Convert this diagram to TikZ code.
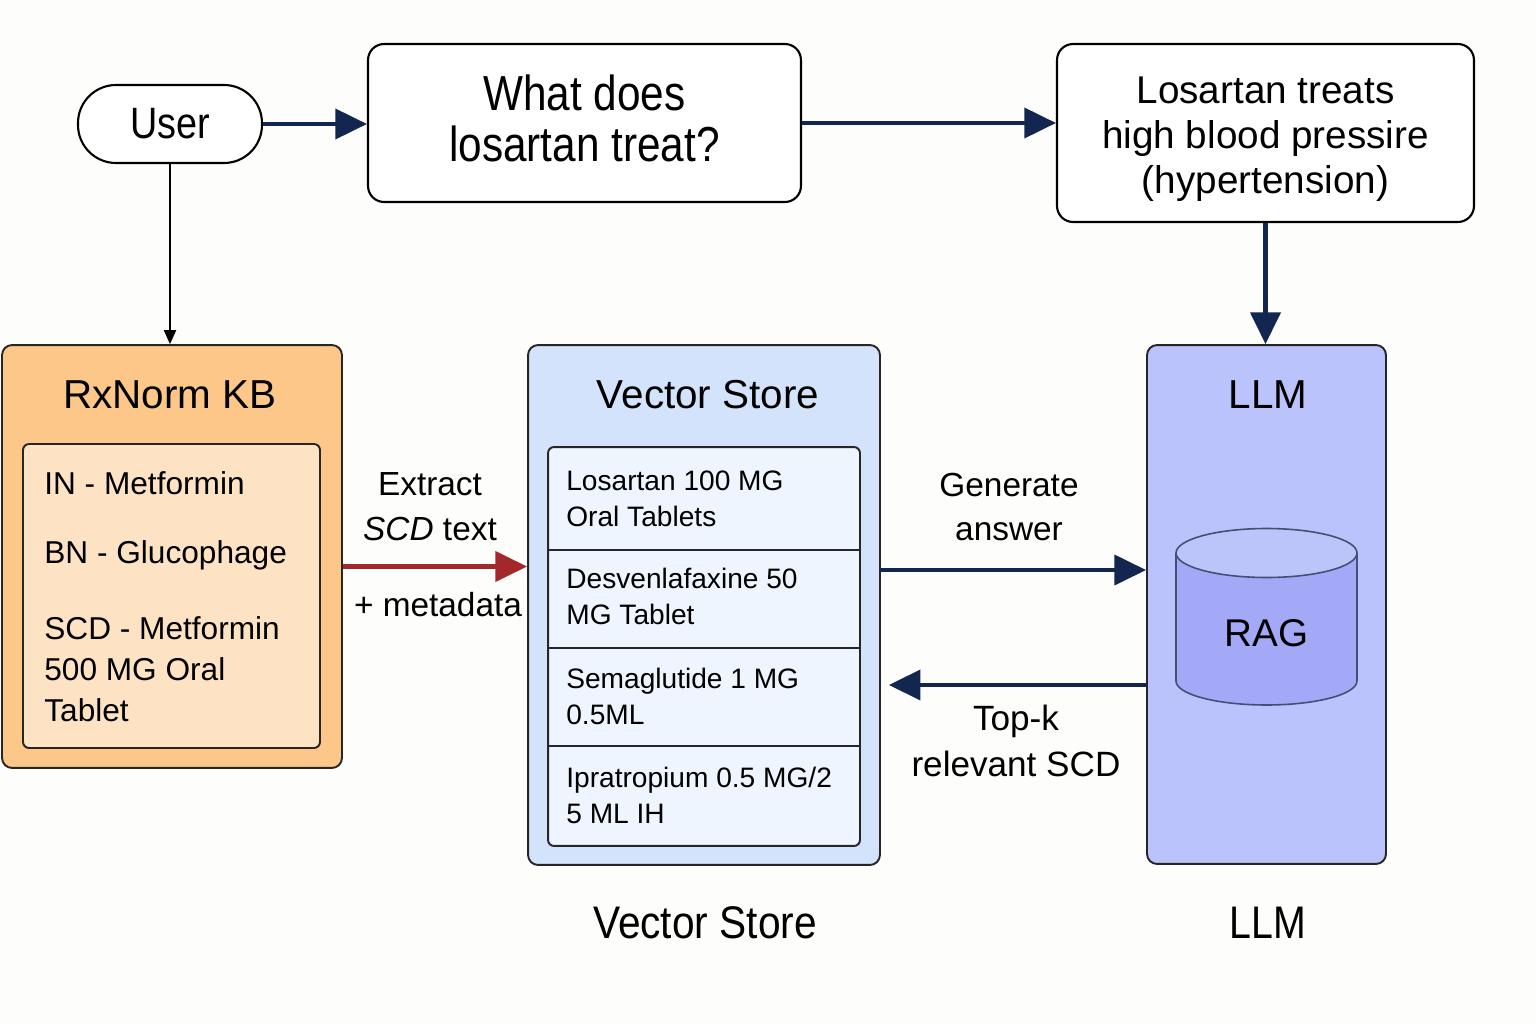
\documentclass[tikz,border=0pt]{standalone}
\usepackage{fontspec}
\setmainfont{Liberation Sans}
\usetikzlibrary{arrows.meta}

\definecolor{pagebg}{HTML}{FDFDFB}
\definecolor{arrowblue}{HTML}{122650}
\definecolor{arrowred}{HTML}{A3282B}
\definecolor{rxorange}{HTML}{FCC788}
\definecolor{rxlight}{HTML}{FDE3C4}
\definecolor{vsblue}{HTML}{D3E3FC}
\definecolor{vslight}{HTML}{EEF5FE}
\definecolor{llmblue}{HTML}{BAC3FB}
\definecolor{ragtop}{HTML}{BCC5FA}
\definecolor{ragside}{HTML}{A3A9F7}

\newcommand{\narrowtext}[1]{\scalebox{0.86}[1]{#1}}

\begin{document}
\begin{tikzpicture}[%
      x=0.02cm, y=-0.02cm,
      box/.style={draw=black, line width=1.2pt, rounded corners=0.32cm, fill=white, align=center, inner sep=0pt},
      panel/.style={draw=black!85, line width=1.1pt, rounded corners=0.2cm, inner sep=0pt},
      flow/.style={color=arrowblue, line width=2.4pt, -{Triangle[length=18pt,width=17pt]}},
      edgetext/.style={align=center, font=\fontsize{19}{25.5}\selectfont},
      paneltitle/.style={font=\fontsize{23}{27}\selectfont},
      itemtext/.style={anchor=west, align=left, inner sep=0pt, font=\fontsize{16}{20.5}\selectfont},
      ]
      \fill [color=pagebg] (0,0) rectangle (1536,1024);

      % question and answer
      \node [box, rounded corners=0.76cm, minimum width=3.68cm, minimum height=1.56cm,
             font=\fontsize{25}{29}\selectfont] (user) at (170,124) {\narrowtext{User}};
      \node [box, minimum width=8.66cm, minimum height=3.16cm,
             font=\fontsize{28}{29}\selectfont] (question) at (584.5,123)
            {\narrowtext{What does}\\\narrowtext{losartan treat?}\rule[-6pt]{0pt}{6pt}};
      \node [box, minimum width=8.34cm, minimum height=3.56cm,
             font=\fontsize{22}{25.5}\selectfont] (answer) at (1265.5,133)
            {\rule{0pt}{22.5pt}Losartan treats\\high blood pressire\\(hypertension)};

      % RxNorm KB
      \node [panel, fill=rxorange, minimum width=6.8cm, minimum height=8.46cm] (rxnorm) at (172,556.5) {};
      \node [panel, fill=rxlight, rounded corners=0.12cm, minimum width=5.94cm, minimum height=6.08cm] (rxlist) at (171.5,596) {};
      \node [paneltitle] (rxtitle) at (170,395) {RxNorm KB};
      \node [itemtext, font=\fontsize{18}{23.5}\selectfont] (rxin) at (44,483) {IN - Metformin};
      \node [itemtext, font=\fontsize{18}{23.5}\selectfont] (rxbn) at (44,555) {BN - Glucophage};
      \node [itemtext, font=\fontsize{18}{23.5}\selectfont] (rxscd) at (44,669) {SCD - Metformin\\500 MG Oral\\Tablet};

      % vector store
      \node [panel, fill=vsblue, minimum width=7.04cm, minimum height=10.4cm] (vstore) at (704,605) {};
      \node [paneltitle] (vstitle) at (708,395) {Vector Store};
      \node [panel, fill=vslight, rounded corners=0.12cm, minimum width=6.24cm, minimum height=7.98cm] (vtable) at (704,646.5) {};
      \foreach \y in {550,648,746}
        \draw [color=black!85, line width=1.1pt] (548,\y) -- (860,\y);
      \node [itemtext] (row1) at (566,498.5) {Losartan 100 MG\\Oral Tablets};
      \node [itemtext] (row2) at (566,596.5) {Desvenlafaxine 50\\MG Tablet};
      \node [itemtext] (row3) at (566,696) {Semaglutide 1 MG\\0.5ML};
      \node [itemtext] (row4) at (566,795.5) {Ipratropium 0.5 MG/2\\5 ML IH};

      % LLM with RAG
      \node [panel, fill=llmblue, minimum width=4.78cm, minimum height=10.38cm] (llm) at (1266.5,604.5) {};
      \node [paneltitle] (llmtitle) at (1268,395) {LLM};
      \filldraw [fill=ragside, draw=arrowblue!80, line width=0.9pt]
            (1176,553) -- (1176,681) arc[start angle=180, end angle=360, x radius=1.81cm, y radius=0.48cm] -- (1357,553);
      \filldraw [fill=ragtop, draw=arrowblue!80, line width=0.9pt]
            (1266.5,553) ellipse[x radius=1.81cm, y radius=0.49cm];
      \node [font=\fontsize{22}{26}\selectfont] (rag) at (1266.5,633) {RAG};

      % connectors
      \draw [flow] (user.east) -- (user.east -| question.west);
      \draw [flow] (question.east) -- (question.east -| answer.west);
      \draw [flow] (answer.south) -- (answer.south |- llm.north);
      \draw [color=black, line width=0.8pt, -{Triangle[length=8pt,width=7pt]}] (user.south) -- (user.south |- rxnorm.north);

      \coordinate (extL) at ([yshift=-0.2cm]rxnorm.east);
      \draw [color=arrowred, line width=2.4pt, -{Triangle[length=18pt,width=17pt]}] (extL) -- (extL -| vstore.west);
      \coordinate (genL) at ([yshift=0.7cm]vstore.east);
      \draw [flow] (genL) -- (genL -| llm.west);
      \coordinate (topR) at ([yshift=-1.61cm]llm.west);
      \draw [flow, shorten >=4.5pt] (topR) -- (topR -| vstore.east);

      \node [edgetext] (extract) at (430,507) {Extract\\\textit{SCD} text};
      \node [edgetext] (meta) at (438,605) {+ metadata};
      \node [edgetext] (generate) at (1009,507) {Generate\\answer};
      \node [edgetext, font=\fontsize{20}{26}\selectfont] (topk) at (1016,741) {Top-k\\relevant SCD};

      % captions
      \node [font=\fontsize{26}{30}\selectfont] (vscaption) at (705,923) {\scalebox{0.89}[1]{Vector Store}};
      \node [font=\fontsize{26}{30}\selectfont] (llmcaption) at (1268,923) {\scalebox{0.86}[1]{LLM}};
\end{tikzpicture}
\end{document}
